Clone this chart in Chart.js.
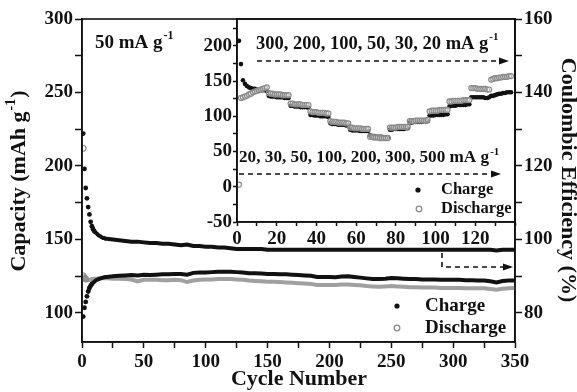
<!DOCTYPE html>
<html>
<head>
<meta charset="utf-8">
<script src="https://cdn.jsdelivr.net/npm/chart.js@4.4.0/dist/chart.umd.min.js"></script>
<style>
body { margin: 0; background: #fff; }
#wrap { position: relative; width: 577px; height: 392px; }
#wrap canvas { position: absolute; left: 0; top: 0; }
</style>
</head>
<body>
<div id="wrap">
  <canvas id="main" width="577" height="392"></canvas>
  <canvas id="inset" width="577" height="392"></canvas>
</div>
<script>
// ---- main plot: long cycling at 50 mA/g ----
var cycles = [1,2,3,4,5,6,7,8,9,10,11,12,13,14,15,16,17,18,19,20,
  25,30,35,40,45,50,55,60,65,70,75,80,85,90,95,100,105,110,115,120,
  125,130,135,140,145,150,155,160,165,170,175,180,185,190,195,200,205,210,215,220,
  225,230,235,240,245,250,255,260,265,270,275,280,285,290,295,300,305,310,315,320,
  325,330,335,340,345,350];

// capacity, mAh/g (left axis)
var chargeCap = [222,198,185,178,172,167,162,159,157,155.5,154.5,154,153,152.5,152,151.5,151,151,150.5,150.5,
  150,149.5,149,148.5,148.5,148,147.5,147.5,147,147,146.5,146,146.5,145.5,145.5,145,145,144.5,144.5,144,
  143.5,143.5,143.5,143.5,143.5,143,143,143,143,143,143,143,143,143,143,143,143,143,143,143,
  143,143,143,143,143,143,143,143,143,143,143,143,143,143,143,143,143,143,143,143,
  143,143,142.5,143,143,143];
var dischargeCap = [212,197.5,184.5,177.5,171.5,166.5,161.5,158.5,156.5,155,154,153.5,152.5,152,151.5,151,150.5,150.5,150,150,
  149.5,149,148.5,148,148,147.5,147,147,146.5,146.5,146,145.5,146,145,145,144.5,144.5,144,144,143.5,
  143,143,143,143,143,142.5,142.5,142.5,142.5,142.5,142.5,142.5,142.5,142.5,142.5,142.5,142.5,142.5,142.5,142.5,
  142.5,142.5,142.5,142.5,142.5,142.5,142.5,142.5,142.5,142.5,142.5,142.5,142.5,142.5,142.5,142.5,142.5,142.5,142.5,142.5,
  142.5,142.5,142,142.5,142.5,142.5];

// coulombic efficiency, % (right axis)
var ceCharge = [79,81.4,83,84.5,85.8,86.8,87.4,87.9,88.2,88.5,88.8,89,89.1,89.3,89.4,89.5,89.6,89.7,89.8,89.8,
  90,90.1,90.2,90.3,90.2,90.4,90.3,90.4,90.5,90.5,90.6,90.6,90.4,90.9,91,91,91.1,91.2,91.2,91.2,
  91.1,91,90.8,90.8,90.7,90.6,90.6,90.5,90.5,90.4,90.3,90.2,90.1,89.8,89.8,89.8,89.7,89.9,90,89.8,
  89.6,89.4,89.2,89.2,89.3,89.5,89.4,89.3,89.2,89.2,89.1,89.1,89.1,89,89,89,89,88.9,88.9,88.8,
  88.8,88.6,88.3,88.7,88.8,88.8];
var ceDischarge = [90.1,89.6,89.2,88.9,88.9,89,89.1,89.2,89.2,89.3,89.3,89.3,89.4,89.4,89.4,89.4,89.4,89.4,89.4,89.4,
  89.3,89.3,89.2,89.1,88.6,89,89,89,88.9,88.9,89,88.9,88.4,88.8,89,89.1,89.1,89.2,89.2,89.2,
  89.1,89,88.8,88.7,88.6,88.5,88.5,88.4,88.3,88.2,88.1,88,87.9,87.6,87.6,87.6,87.6,87.7,87.7,87.6,
  87.5,87.3,87.2,87.1,87.2,87.3,87.2,87.1,87,87,86.9,86.9,86.9,86.8,86.8,86.8,86.8,86.7,86.7,86.7,
  86.7,86.5,86.3,86.6,86.7,86.8];

// ---- inset: rate test ----
var rateCycles = [];
for (var i = 1; i <= 138; i++) rateCycles.push(i);
var rateCharge = [
  207,174,151,146,143,141,140,139,139,138,138,137,137,137,136,
  129,128,128,128,127,127,127,127,126,126,126,
  115,115,114,114,114,113,113,113,113,112,
  102,102,101,101,101,100,100,100,100,99,
  90,89,89,89,88,88,88,88,87,87,
  81,80,80,80,80,79,79,79,79,79,
  73,72,72,71,71,71,71,70,70,70,
  81,81,82,82,82,82,82,82,83,83,
  91,91,92,92,92,92,92,93,93,93,
  101,101,101,102,102,102,102,102,103,103,
  114,115,115,115,116,116,116,116,116,117,117,
  127,127,127,127,127,127,127,126,126,127,
  129,129,130,131,132,132,133,133,134,134,134];
var rateDischarge = [
  3,126,127,128,129,131,132,134,135,136,137,138,139,140,141,
  133,132,132,131,131,131,131,130,130,130,130,
  118,118,117,117,117,117,116,116,116,116,
  107,106,106,106,105,105,105,105,104,104,
  93,92,92,92,91,91,91,91,90,90,
  84,84,83,83,83,83,82,82,82,82,
  71,71,70,70,70,69,69,69,69,69,
  84,84,84,84,85,85,85,85,85,85,
  93,93,93,94,94,94,94,94,94,95,
  107,108,108,108,108,109,109,109,109,109,
  121,121,122,122,122,122,122,123,123,123,123,
  140,140,140,139,139,139,139,139,138,138,
  152,153,154,154,155,155,156,156,156,157,157];

var mainXTicks = [0,25,50,75,100,125,150,175,200,225,250,275,300,325,350];
var capTicks = [100,125,150,175,200,225,250,275,300];
var ceTicks = [80,90,100,110,120,130,140,150,160];
var insetXTicks = [0,10,20,30,40,50,60,70,80,90,100,110,120,130,140];
var insetYTicks = [-50,-25,0,25,50,75,100,125,150,175,200,225];

var FONT = '"Liberation Serif", "Times New Roman", serif';
var INK = '#111';
Chart.defaults.font.family = FONT;
Chart.defaults.font.weight = 'bold';
Chart.defaults.font.size = 19;
Chart.defaults.color = INK;

function pts(xs, ys) {
  return xs.map(function(x, i) { return { x: x, y: ys[i] }; });
}

function setTicks(list) {
  return function(scale) {
    scale.ticks = list.map(function(v) { return { value: v }; });
  };
}

function supText(ctx, x, y, base, sup, after, size, measureOnly) {
  ctx.font = 'bold ' + size + 'px ' + FONT;
  var w1 = ctx.measureText(base).width;
  var w3 = after ? ctx.measureText(after).width : 0;
  ctx.font = 'bold ' + Math.round(size * 0.62) + 'px ' + FONT;
  var w2 = ctx.measureText(sup).width;
  var total = w1 + 1 + w2 + (after ? 1 + w3 : 0);
  if (measureOnly) return total;
  ctx.textBaseline = 'middle';
  ctx.textAlign = 'left';
  ctx.font = 'bold ' + size + 'px ' + FONT;
  ctx.fillText(base, x, y);
  ctx.font = 'bold ' + Math.round(size * 0.62) + 'px ' + FONT;
  ctx.fillText(sup, x + w1 + 1, y - size * 0.36);
  if (after) {
    ctx.font = 'bold ' + size + 'px ' + FONT;
    ctx.fillText(after, x + w1 + 2 + w2, y);
  }
  return total;
}

function dashArrow(ctx, path) {
  ctx.save();
  ctx.strokeStyle = INK;
  ctx.fillStyle = INK;
  ctx.lineWidth = 1.6;
  ctx.setLineDash([5, 4]);
  ctx.beginPath();
  ctx.moveTo(path[0][0], path[0][1]);
  for (var i = 1; i < path.length; i++) ctx.lineTo(path[i][0], path[i][1]);
  ctx.stroke();
  ctx.setLineDash([]);
  var a = path[path.length - 2], b = path[path.length - 1];
  var ang = Math.atan2(b[1] - a[1], b[0] - a[0]);
  ctx.translate(b[0], b[1]);
  ctx.rotate(ang);
  ctx.beginPath();
  ctx.moveTo(2, 0);
  ctx.lineTo(-8, -3.5);
  ctx.lineTo(-8, 3.5);
  ctx.closePath();
  ctx.fill();
  ctx.restore();
}

function legendRow(ctx, x, y, filled, label, size, gap) {
  ctx.save();
  ctx.beginPath();
  if (filled) {
    ctx.fillStyle = INK;
    ctx.arc(x, y, 2.6, 0, Math.PI * 2);
    ctx.fill();
  } else {
    ctx.strokeStyle = '#8c8c8c';
    ctx.lineWidth = 1.3;
    ctx.arc(x, y, 2.8, 0, Math.PI * 2);
    ctx.stroke();
  }
  ctx.fillStyle = INK;
  ctx.font = 'bold ' + size + 'px ' + FONT;
  ctx.textAlign = 'left';
  ctx.textBaseline = 'middle';
  ctx.fillText(label, x + gap, y);
  ctx.restore();
}

function frame(chart) {
  var a = chart.chartArea, ctx = chart.ctx;
  ctx.save();
  ctx.strokeStyle = INK;
  ctx.lineWidth = 1.6;
  ctx.strokeRect(a.left, a.top, a.right - a.left, a.bottom - a.top);
  ctx.restore();
}

var mainDecor = {
  id: 'mainDecor',
  afterDraw: function(chart) {
    var ctx = chart.ctx;
    frame(chart);
    ctx.save();
    ctx.fillStyle = INK;
    // left title with superscript
    var w = supText(ctx, 0, 0, 'Capacity (mAh g', '-1', ')', 22, true);
    ctx.save();
    ctx.translate(19, 181);
    ctx.rotate(-Math.PI / 2);
    supText(ctx, -w / 2, 0, 'Capacity (mAh g', '-1', ')', 22);
    ctx.restore();
    // right title
    ctx.save();
    ctx.translate(568, 180);
    ctx.rotate(Math.PI / 2);
    ctx.font = 'bold 22px ' + FONT;
    ctx.textAlign = 'center';
    ctx.textBaseline = 'middle';
    ctx.fillText('Coulombic Efficiency (%)', 0, 0);
    ctx.restore();
    // bottom title
    ctx.font = 'bold 22px ' + FONT;
    ctx.textAlign = 'center';
    ctx.textBaseline = 'middle';
    ctx.fillText('Cycle Number', 299, 379);
    // current density label
    supText(ctx, 95, 43, '50 mA g', '-1', null, 19);
    ctx.restore();
    dashArrow(ctx, [[442, 253], [442, 267], [511, 267]]);
    legendRow(ctx, 397, 306, true, 'Charge', 19, 28);
    legendRow(ctx, 397, 328, false, 'Discharge', 19, 28);
  }
};

new Chart(document.getElementById('main'), {
  type: 'scatter',
  data: {
    datasets: [
      {
        label: 'Charge', data: pts(cycles, chargeCap), yAxisID: 'y', order: 0,
        showLine: true, borderColor: INK, borderWidth: 4,
        segment: { borderColor: function(c) { return c.p0.parsed.x < 8 ? 'rgba(0,0,0,0)' : undefined; } },
        pointRadius: function(c) { return c.dataIndex < 10 ? 2.4 : 0; },
        pointBackgroundColor: INK, pointBorderWidth: 0
      },
      {
        label: 'Discharge', data: pts(cycles, dischargeCap), yAxisID: 'y', order: 2,
        showLine: false,
        pointRadius: function(c) { return c.dataIndex < 1 ? 2.8 : 0; },
        pointBackgroundColor: 'rgba(255,255,255,0)', pointBorderColor: '#8c8c8c', pointBorderWidth: 1.2
      },
      {
        label: 'CE charge', data: pts(cycles, ceCharge), yAxisID: 'y2', order: 1,
        showLine: true, borderColor: INK, borderWidth: 4,
        segment: { borderColor: function(c) { return c.p0.parsed.x < 5 ? 'rgba(0,0,0,0)' : undefined; } },
        pointRadius: function(c) { return c.dataIndex < 8 ? 2.4 : 0; },
        pointBackgroundColor: INK, pointBorderWidth: 0
      },
      {
        label: 'CE discharge', data: pts(cycles, ceDischarge), yAxisID: 'y2', order: 3,
        showLine: true, borderColor: '#a0a0a0', borderWidth: 4,
        pointRadius: function(c) { return c.dataIndex < 3 ? 2.8 : 0; },
        pointBackgroundColor: 'rgba(255,255,255,0)', pointBorderColor: '#8c8c8c', pointBorderWidth: 1.2
      }
    ]
  },
  options: {
    responsive: false,
    animation: false,
    layout: { padding: { top: 19, left: 0, right: 0, bottom: 0 } },
    plugins: { legend: { display: false }, tooltip: { enabled: false } },
    scales: {
      x: {
        type: 'linear', min: 0, max: 350,
        afterBuildTicks: setTicks(mainXTicks),
        afterFit: function(s) { s.height = 50; },
        ticks: { autoSkip: false, maxRotation: 0, padding: 3, callback: function(v) { return v % 50 === 0 ? v : ''; } },
        grid: { drawOnChartArea: false, tickLength: 6, tickColor: INK, tickWidth: 1.5 },
        border: { color: INK, width: 1.6 }
      },
      y: {
        position: 'left', min: 80.2, max: 300,
        afterBuildTicks: setTicks(capTicks),
        afterFit: function(s) { s.width = 82; },
        ticks: { autoSkip: false, padding: 2, callback: function(v) { return v % 50 === 0 ? v : ''; } },
        grid: { drawOnChartArea: false, tickLength: 7, tickColor: INK, tickWidth: 1.5 },
        border: { color: INK, width: 1.6 }
      },
      y2: {
        position: 'right', min: 72.08, max: 160,
        afterBuildTicks: setTicks(ceTicks),
        afterFit: function(s) { s.width = 62; },
        ticks: { autoSkip: false, padding: 2, callback: function(v) { return v % 20 === 0 ? v : ''; } },
        grid: { drawOnChartArea: false, tickLength: 7, tickColor: INK, tickWidth: 1.5 },
        border: { color: INK, width: 1.6 }
      }
    }
  },
  plugins: [mainDecor]
});

var insetDecor = {
  id: 'insetDecor',
  afterDraw: function(chart) {
    var ctx = chart.ctx;
    frame(chart);
    ctx.save();
    ctx.fillStyle = INK;
    supText(ctx, 256, 44, '300, 200, 100, 50, 30, 20 mA g', '-1', null, 18.5);
    supText(ctx, 239, 158, '20, 30, 50, 100, 200, 300, 500 mA g', '-1', null, 17.2);
    ctx.restore();
    dashArrow(ctx, [[257, 61], [507, 61]]);
    dashArrow(ctx, [[239, 174], [499, 174]]);
    legendRow(ctx, 418, 190, true, 'Charge', 16.5, 23);
    legendRow(ctx, 419, 209, false, 'Discharge', 16.5, 22);
  }
};

new Chart(document.getElementById('inset'), {
  type: 'scatter',
  data: {
    datasets: [
      {
        label: 'Charge', data: pts(rateCycles, rateCharge), order: 1,
        pointRadius: 2.3, pointBackgroundColor: INK, pointBorderWidth: 0
      },
      {
        label: 'Discharge', data: pts(rateCycles, rateDischarge), order: 0,
        pointRadius: 2.5, pointBackgroundColor: 'rgba(255,255,255,0.35)', pointBorderColor: '#8a8a8a', pointBorderWidth: 1.2
      }
    ]
  },
  options: {
    responsive: false,
    animation: false,
    layout: { padding: { top: 19, left: 192, right: 62, bottom: 140 } },
    plugins: { legend: { display: false }, tooltip: { enabled: false } },
    scales: {
      x: {
        type: 'linear', min: 0, max: 140,
        afterBuildTicks: setTicks(insetXTicks),
        afterFit: function(s) { s.height = 30; },
        ticks: { autoSkip: false, maxRotation: 0, padding: 2, callback: function(v) { return (v % 20 === 0 && v < 140) ? v : ''; } },
        grid: { drawOnChartArea: false, tickLength: 4, tickColor: INK, tickWidth: 1.5 },
        border: { color: INK, width: 1.6 }
      },
      y: {
        min: -50, max: 238,
        afterBuildTicks: setTicks(insetYTicks),
        afterFit: function(s) { s.width = 45; },
        ticks: { autoSkip: false, padding: 1, callback: function(v) { return v % 50 === 0 ? v : ''; } },
        grid: { drawOnChartArea: false, tickLength: 4, tickColor: INK, tickWidth: 1.5 },
        border: { color: INK, width: 1.6 }
      }
    }
  },
  plugins: [insetDecor]
});
</script>
</body>
</html>
